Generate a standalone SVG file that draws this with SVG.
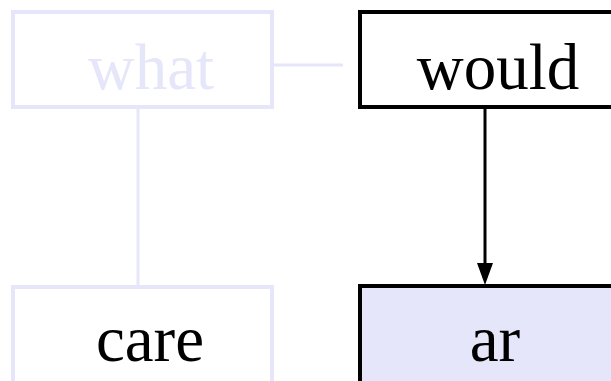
<svg xmlns="http://www.w3.org/2000/svg" width="611" height="381" viewBox="0 0 611 381">
<style>
.faint{fill:#ffffff;stroke:#e6e6fa;stroke-width:4}
.dark{stroke:#000000;stroke-width:4}
.t{font-family:"Liberation Serif","Times New Roman",serif;font-size:65px;text-anchor:middle}
.lc{stroke:#e6e6fa;stroke-width:3;fill:none}
.ac{stroke:#000000;stroke-width:3;fill:none}
</style>
<g id="connectors">
<line class="lc" x1="272" y1="65" x2="343" y2="65"/>
<line class="lc" x1="138" y1="107" x2="138" y2="287"/>
<line class="ac" x1="485" y1="107" x2="485" y2="263"/>
<path d="M477,263 L493,263 L485,285 Z" fill="#000000"/>
</g>
<g id="what">
<rect class="faint" x="13" y="12" width="259" height="95"/>
<text class="t" x="151" y="89" fill="#e6e6fa">what</text>
</g>
<g id="would">
<rect x="360" y="12" width="259" height="95" fill="#ffffff" class="dark"/>
<text class="t" x="498" y="89" fill="#000000">would</text>
</g>
<g id="care">
<rect class="faint" x="13" y="287" width="259" height="100"/>
<text class="t" x="150" y="361" fill="#000000">care</text>
</g>
<g id="ar">
<rect x="360" y="286" width="259" height="100" fill="#e6e6fa" class="dark"/>
<text class="t" x="495" y="361" fill="#000000">ar</text>
</g>
</svg>
